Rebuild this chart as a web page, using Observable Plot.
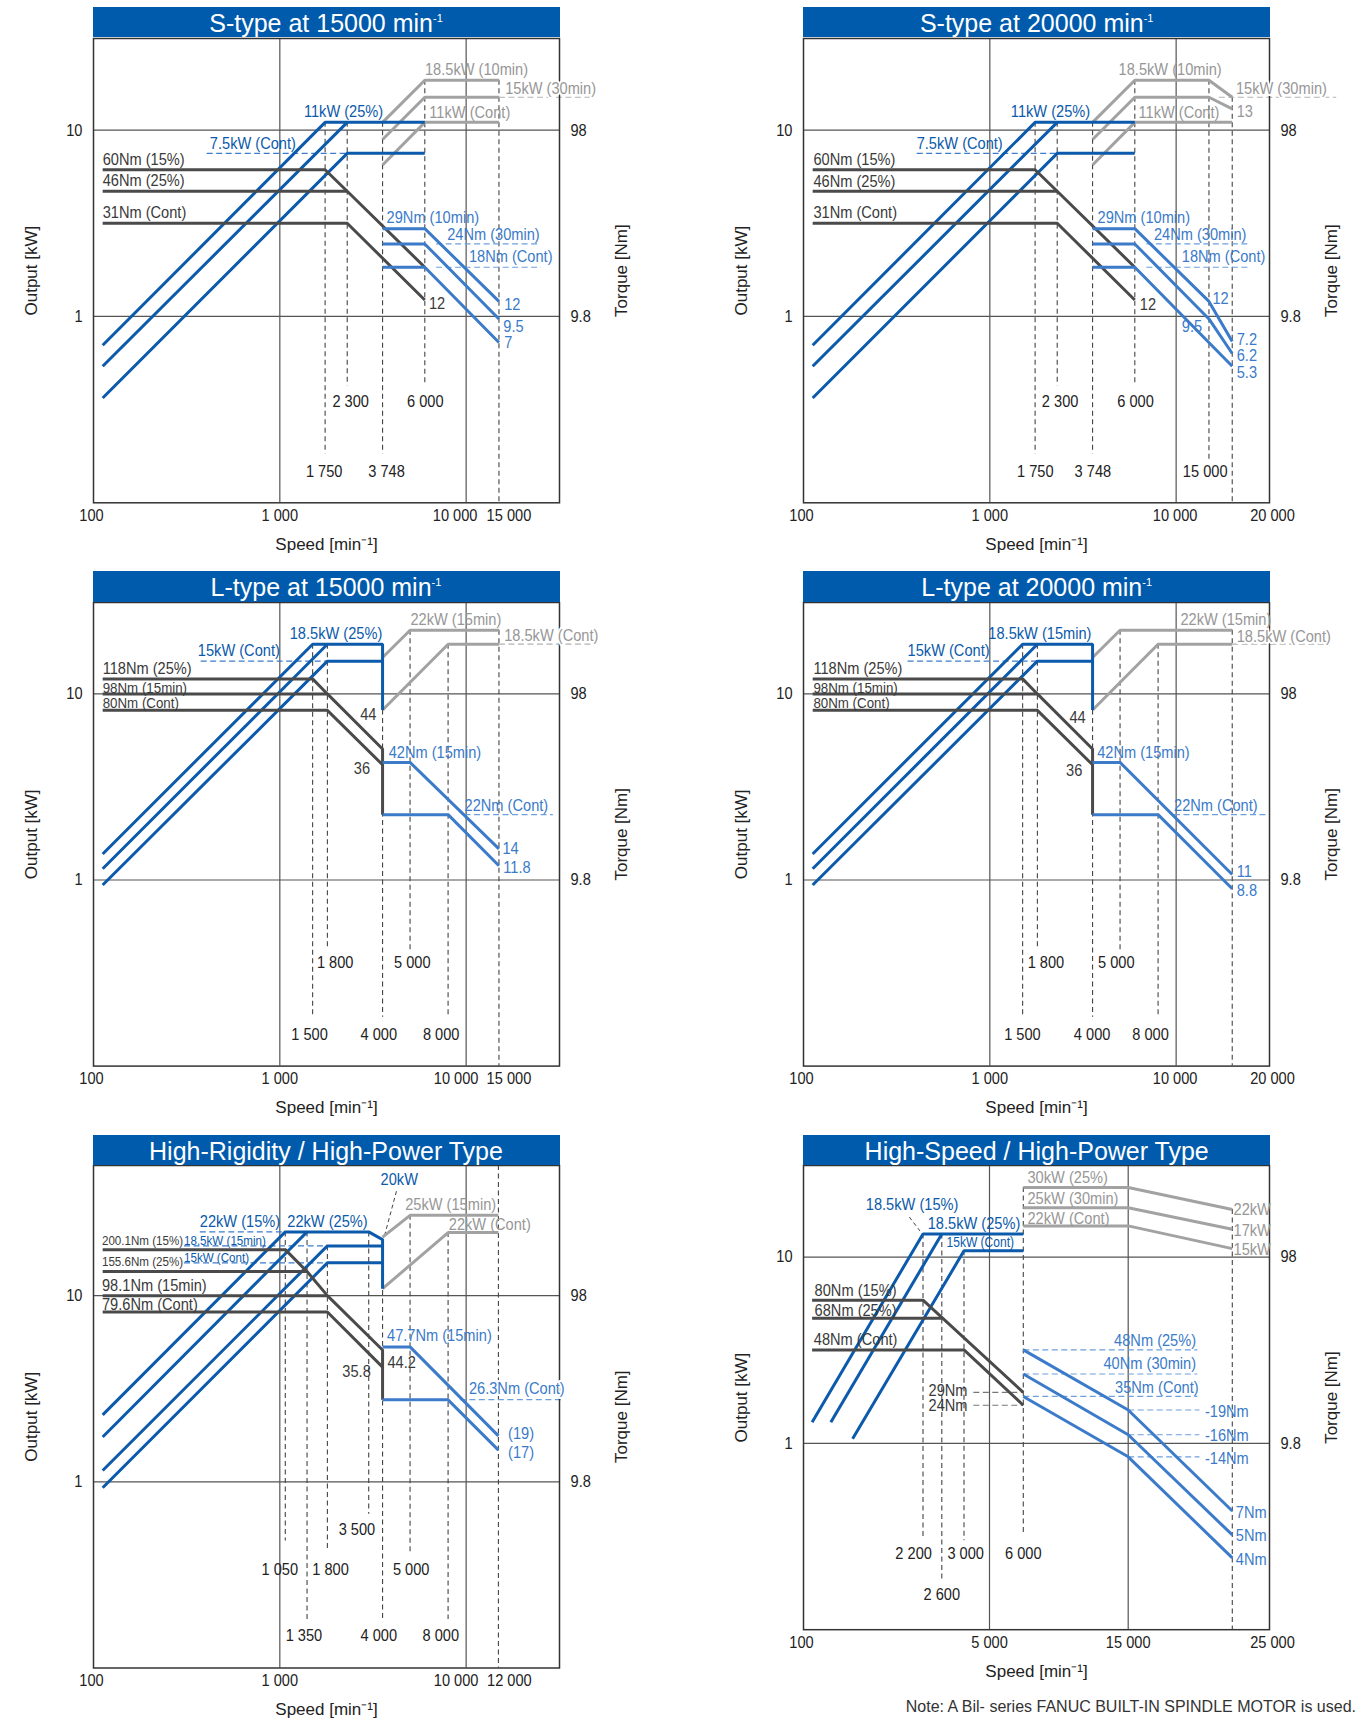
<!DOCTYPE html>
<html><head><meta charset="utf-8">
<script src="https://cdn.jsdelivr.net/npm/d3@7"></script>
<script src="https://cdn.jsdelivr.net/npm/@observablehq/plot@0.6"></script>
<style>
html,body{margin:0;padding:0;background:#fff;}
#root{position:relative;width:1369px;height:1720px;overflow:hidden;font-family:"Liberation Sans",Arial,sans-serif;}
.title{position:absolute;background:#005bac;color:#fff;font-size:25px;text-align:center;box-sizing:border-box;white-space:nowrap;line-height:32px;}
.title sup{font-size:11px;vertical-align:10px;line-height:0;}
.panel{position:absolute;}
.note{position:absolute;right:13px;top:1698px;font-size:16px;color:#333;white-space:nowrap;}
</style></head><body><div id="root"></div>
<script>
// ---------------- data ----------------
const titleText = ["S-type at 15000 min", "S-type at 20000 min", "L-type at 15000 min", "L-type at 20000 min", "High-Rigidity / High-Power Type", "High-Speed / High-Power Type"];
const titleSup = ["-1", "-1", "-1", "-1", "", ""];
const yTicks = [1, 10];
const yTickText = ["1", "10"];
const torqueTickText = ["9.8", "98"];
const X_EDGE = 31700; // speed at the right frame edge of the log panels

// series: [category, [[speed min-1, value]]]; output cats in kW, torque cats in Nm
const s15Series = [
  ["out", [[112, 0.70], [1750, 11], [6000, 11]]],
  ["out", [[112, 0.54], [2300, 11]]],
  ["out", [[112, 0.365], [2300, 7.5], [6000, 7.5]]],
  ["ext", [[3560, 11], [6000, 18.5], [15000, 18.5]]],
  ["ext", [[3560, 8.9], [6000, 15], [15000, 15]]],
  ["ext", [[3560, 6.5], [6000, 11], [15000, 11]]],
  ["trq", [[112, 60], [1750, 60], [2300, 46], [6000, 18]]],
  ["trq", [[112, 46], [2300, 46]]],
  ["trq", [[112, 31], [2300, 31], [6000, 12]]],
  ["trq2", [[3560, 29], [6000, 29], [15000, 11.8]]],
  ["trq2", [[3560, 24], [6000, 24], [15000, 9.5]]],
  ["trq2", [[3560, 18], [6000, 18], [15000, 7.1]]]
];
const s15Guides = [[1750, 11, 0.183], [2300, 11, 0.423], [3560, 11, 0.183], [6000, 18.5, 0.423], [15000, 18.5, 0.1]];
const s15Leaders = [["out", 405, 2300, 7.5], ["ext", 15000, 48700, 15], ["trq2", 6900, 24600, 24], ["trq2", 6900, 25200, 18]];
const s15Labels = [
  ["ext", "18.5kW (10min)", 6010, 21.0], ["ext", "15kW (30min)", 16200, 16.8], ["ext", "11kW (Cont)", 6345, 12.4],
  ["out", "11kW (25%)", 1347, 12.6], ["out", "7.5kW (Cont)", 421, 8.5],
  ["trq", "60Nm (15%)", 112, 68.3], ["trq", "46Nm (25%)", 112, 52.4], ["trq", "31Nm (Cont)", 112, 35.2],
  ["trq2", "29Nm (10min)", 3741, 33.4], ["trq2", "24Nm (30min)", 7910, 26.8], ["trq2", "18Nm (Cont)", 10350, 20.5],
  ["trq", "12", 6310, 11.5], ["trq2", "12", 16000, 11.4], ["trq2", "9.5", 15830, 8.7], ["trq2", "7", 16000, 7.1]
];
const s15Speeds = [["2 300", 2400, 0.35], ["6 000", 6040, 0.35], ["1 750", 1730, 0.148], ["3 748", 3741, 0.148]];
const s15Ticks = [100, 1000, 10000, 15000];
const s15TickText = ["100", "1 000", "10 000", "15 000"];

const s20Series = [
  ["out", [[112, 0.70], [1750, 11], [6000, 11]]],
  ["out", [[112, 0.54], [2300, 11]]],
  ["out", [[112, 0.365], [2300, 7.5], [6000, 7.5]]],
  ["ext", [[3560, 11], [6000, 18.5], [15000, 18.5], [20000, 15]]],
  ["ext", [[3560, 8.9], [6000, 15], [15000, 15], [20000, 13]]],
  ["ext", [[3560, 6.5], [6000, 11], [20000, 11]]],
  ["trq", [[112, 60], [1750, 60], [2300, 46], [6000, 18]]],
  ["trq", [[112, 46], [2300, 46]]],
  ["trq", [[112, 31], [2300, 31], [6000, 12]]],
  ["trq2", [[3560, 29], [6000, 29], [15000, 11.8], [20000, 7.2]]],
  ["trq2", [[3560, 24], [6000, 24], [15000, 9.5], [20000, 6.2]]],
  ["trq2", [[3560, 18], [6000, 18], [20000, 5.3]]]
];
const s20Guides = [[1750, 11, 0.183], [2300, 11, 0.423], [3560, 11, 0.183], [6000, 18.5, 0.423], [15000, 18.5, 0.167], [20000, 15, 0.1]];
const s20Leaders = [["out", 405, 2300, 7.5], ["ext", 16940, 72300, 15], ["trq2", 6920, 25200, 24], ["trq2", 6920, 25200, 18]];
const s20Labels = [
  ["ext", "18.5kW (10min)", 4910, 21.0], ["ext", "15kW (30min)", 20940, 16.8], ["ext", "11kW (Cont)", 6280, 12.4], ["ext", "13", 21140, 12.5],
  ["out", "11kW (25%)", 1297, 12.5], ["out", "7.5kW (Cont)", 405, 8.5],
  ["trq", "60Nm (15%)", 113, 68.3], ["trq", "46Nm (25%)", 113, 51.9], ["trq", "31Nm (Cont)", 113, 35.2],
  ["trq2", "29Nm (10min)", 3785, 33.4], ["trq2", "24Nm (30min)", 7600, 27.0], ["trq2", "18Nm (Cont)", 10720, 20.5],
  ["trq", "12", 6380, 11.4], ["trq2", "12", 15670, 12.2], ["trq2", "9.5", 10720, 8.7],
  ["trq2", "7.2", 21140, 7.36], ["trq2", "6.2", 21140, 6.03], ["trq2", "5.3", 21140, 4.9]
];
const s20Speeds = [["2 300", 2384, 0.35], ["6 000", 6050, 0.35], ["1 750", 1754, 0.148], ["3 748", 3573, 0.148], ["15 000", 14320, 0.148]];
const s20Ticks = [100, 1000, 10000, X_EDGE];
const s20TickText = ["100", "1 000", "10 000", "20 000"];

const l15Series = [
  ["out", [[112, 1.38], [1500, 18.5], [3560, 18.5], [3560, 8.2]]],
  ["out", [[112, 1.15], [1800, 18.5]]],
  ["out", [[112, 0.94], [1800, 15], [3560, 15]]],
  ["ext", [[3560, 15.7], [5000, 22], [15000, 22]]],
  ["ext", [[3560, 8.2], [8000, 18.5], [15000, 18.5]]],
  ["trq", [[112, 118], [1500, 118], [1800, 98], [3560, 49.6], [3560, 22]]],
  ["trq", [[112, 98], [1800, 98]]],
  ["trq", [[112, 80], [1800, 80], [3560, 40.8]]],
  ["trq2", [[3560, 42], [5000, 42], [15000, 14.4]]],
  ["trq2", [[3560, 22], [8000, 22], [15000, 11.7]]]
];
const l15Guides = [[1500, 18.5, 0.183], [1800, 18.5, 0.43], [3560, 8.2, 0.183], [5000, 22, 0.42], [8000, 18.5, 0.183], [15000, 22, 0.1]];
const l15Leaders = [["ext", 15000, 49900, 18.5], ["out", 376, 1800, 15], ["trq2", 9806, 29200, 22]];
const l15Labels = [
  ["ext", "22kW (15min)", 5020, 25.0], ["ext", "18.5kW (Cont)", 16000, 20.7],
  ["out", "18.5kW (25%)", 1130, 21.0], ["out", "15kW (Cont)", 363, 17.0],
  ["trq", "118Nm (25%)", 112, 133.5], ["trq", "98Nm (15min)", 112, 106], ["trq", "80Nm (Cont)", 112, 87.4],
  ["trq", "44", 2698, 75.5], ["trq", "36", 2494, 38.8],
  ["trq2", "42Nm (15min)", 3837, 47.3], ["trq2", "22Nm (Cont)", 9806, 24.6], ["trq2", "14", 15670, 14.4], ["trq2", "11.8", 15830, 11.4]
];
const l15Speeds = [["1 800", 1983, 0.359], ["5 000", 5140, 0.359], ["1 500", 1443, 0.148], ["4 000", 3398, 0.148], ["8 000", 7346, 0.148]];

const l20Series = [
  ["out", [[112, 1.38], [1500, 18.5], [3560, 18.5], [3560, 8.2]]],
  ["out", [[112, 1.15], [1800, 18.5]]],
  ["out", [[112, 0.94], [1800, 15], [3560, 15]]],
  ["ext", [[3560, 15.7], [5000, 22], [20000, 22]]],
  ["ext", [[3560, 8.2], [8000, 18.5], [20000, 18.5]]],
  ["trq", [[112, 118], [1500, 118], [1800, 98], [3560, 49.6], [3560, 22]]],
  ["trq", [[112, 98], [1800, 98]]],
  ["trq", [[112, 80], [1800, 80], [3560, 40.8]]],
  ["trq2", [[3560, 42], [5000, 42], [20000, 10.5]]],
  ["trq2", [[3560, 22], [8000, 22], [20000, 8.8]]]
];
const l20Guides = [[1500, 18.5, 0.183], [1800, 18.5, 0.43], [3560, 8.2, 0.183], [5000, 22, 0.42], [8000, 18.5, 0.183], [20000, 22, 0.1]];
const l20Leaders = [["ext", 20000, 66800, 18.5], ["out", 362, 1800, 15], ["trq2", 9740, 30300, 22]];
const l20Labels = [
  ["ext", "22kW (15min)", 10540, 25.2], ["ext", "18.5kW (Cont)", 21140, 20.4],
  ["out", "18.5kW (15min)", 982, 21.0], ["out", "15kW (Cont)", 362, 17.0],
  ["trq", "118Nm (25%)", 113, 133.5], ["trq", "98Nm (15min)", 113, 106], ["trq", "80Nm (Cont)", 113, 87.4],
  ["trq", "44", 2673, 72.9], ["trq", "36", 2566, 37.9],
  ["trq2", "42Nm (15min)", 3767, 47.3], ["trq2", "22Nm (Cont)", 9740, 24.6], ["trq2", "11", 21140, 10.85], ["trq2", "8.8", 21140, 8.59]
];
const l20Speeds = [["1 800", 2000, 0.359], ["5 000", 4775, 0.359], ["1 500", 1496, 0.148], ["4 000", 3540, 0.148], ["8 000", 7290, 0.148]];

const hrSeries = [
  ["out", [[112, 2.29], [1070, 22], [3000, 22], [3560, 20], [3560, 10.9]]],
  ["out", [[112, 1.74], [1400, 22]]],
  ["out", [[112, 1.15], [1800, 18.5], [3560, 18.5]]],
  ["out", [[112, 0.93], [1800, 15], [3560, 15]]],
  ["ext", [[3560, 20.6], [5000, 27], [14900, 27]]],
  ["ext", [[3560, 10.9], [8000, 21.8], [14900, 21.8]]],
  ["trq", [[112, 173], [1070, 173], [1400, 132], [1800, 98], [3560, 50], [3560, 27]]],
  ["trq", [[112, 132], [1400, 132]]],
  ["trq", [[112, 98], [1800, 98]]],
  ["trq", [[112, 80], [1800, 80], [3560, 40.5]]],
  ["trq2", [[3560, 52], [5000, 52], [14900, 17.3]]],
  ["trq2", [[3560, 27], [8000, 27], [14900, 14.5]]]
];
const hrGuides = [[1070, 22, 0.481], [1400, 22, 0.182], [1800, 18.5, 0.4375], [3000, 22, 0.669], [3560, 20, 0.182], [5000, 27, 0.417], [8000, 21.8, 0.182], [14900, 50, 0.1]];
const hrLeaders = [["out", 372, 1070, 22], ["out", 306, 1800, 18.5], ["out", 306, 1800, 15], ["trq2", 9250, 32960, 27.1]];
const hrPointers = [[4227, 36.4, 3652, 21.1]];
const hrLabels = [
  ["out", "20kW", 3475, 41.9], ["ext", "25kW (15min)", 4710, 30.8], ["ext", "22kW (Cont)", 8070, 24.1],
  ["out", "22kW (15%)", 372, 24.9], ["out", "22kW (25%)", 1097, 24.9],
  ["trq", "200.1Nm (15%)", 111, 194.5], ["out", "18.5kW (15min)", 306, 19.85],
  ["trq", "155.6Nm (25%)", 111, 150], ["out", "15kW (Cont)", 306, 16.0],
  ["trq", "98.1Nm (15min)", 111, 110.8], ["trq", "79.6Nm (Cont)", 111, 87.5],
  ["trq2", "47.7Nm (15min)", 3762, 59.9], ["trq", "44.2", 3780, 43.0], ["trq", "35.8", 2165, 38.1],
  ["trq2", "26.3Nm (Cont)", 10350, 31.2], ["trq2", "(19)", 16790, 17.9], ["trq2", "(17)", 16790, 14.1]
];
const hrSpeeds = [["3 500", 2594, 0.554], ["1 050", 1000, 0.337], ["1 800", 1871, 0.337], ["5 000", 5070, 0.337], ["1 350", 1347, 0.1488], ["4 000", 3398, 0.1488], ["8 000", 7310, 0.1488]];
const hrTicks = [100, 1000, 10000, 14900];
const hrTickText = ["100", "1 000", "10 000", "12 000"];

const hsBreaks = [100, 2200, 2600, 3000, 5000, 6000, 15000, 22000, 25000];
const hsSeries = [
  ["out", [[251, 1.30], [2200, 13.3], [6000, 13.3]]],
  ["out", [[580, 1.30], [2600, 13.3]]],
  ["out", [[963, 1.06], [3000, 10.8], [6000, 10.8]]],
  ["ext", [[6000, 23.6], [15000, 23.6], [22000, 18.0]]],
  ["ext", [[6000, 18.4], [15000, 18.4], [22000, 14.1]]],
  ["ext", [[6000, 14.7], [15000, 14.7], [22000, 11.1]]],
  ["trq", [[251, 57.5], [2200, 57.5], [6000, 18.4]]],
  ["trq", [[251, 46.0], [2600, 46.0]]],
  ["trq", [[251, 31.1], [3000, 31.1], [6000, 15.7]]],
  ["trq2", [[6000, 31.1], [15000, 14.8], [22000, 4.25]]],
  ["trq2", [[6000, 23.1], [15000, 10.9], [22000, 3.16]]],
  ["trq2", [[6000, 17.5], [15000, 8.3], [22000, 2.38]]]
];
const hsGuides = [[2200, 13.3, 0.308], [2600, 13.3, 0.183], [3000, 10.8, 0.30], [6000, 23.6, 0.33], [22000, 18.0, 0.1]];
const hsLeaders = [["trq2", 6000, 19650, 31.1], ["trq2", 6000, 19650, 23.1], ["trq2", 6000, 19650, 17.5],
  ["trq2", 15000, 19790, 14.8], ["trq2", 15000, 19790, 10.9], ["trq2", 15000, 19790, 8.3],
  ["trq", 3730, 6000, 18.4], ["trq", 3730, 6000, 15.7]];
const hsPointers = [[1960, 16.4, 2147, 13.8]];
const hsLabels = [
  ["out", "18.5kW (15%)", 1195, 19.1], ["out", "18.5kW (25%)", 2300, 15.2], ["out", "15kW (Cont)", 2685, 11.9],
  ["ext", "30kW (25%)", 6360, 26.8], ["ext", "25kW (30min)", 6360, 20.5], ["ext", "22kW (Cont)", 6360, 16.1],
  ["ext", "22kW", 22100, 18.0], ["ext", "17kW", 22100, 13.9], ["ext", "15kW", 22100, 10.94],
  ["trq", "80Nm (15%)", 295, 64.7], ["trq", "68Nm (25%)", 295, 50.9], ["trq", "48Nm (Cont)", 281, 35.2],
  ["trq", "29Nm", 2317, 18.9], ["trq", "24Nm", 2317, 15.7],
  ["trq2", "48Nm (25%)", 13790, 34.9], ["trq2", "40Nm (30min)", 12880, 26.3], ["trq2", "35Nm (Cont)", 13870, 19.6],
  ["trq2", "-19Nm", 20160, 14.6], ["trq2", "-16Nm", 20160, 10.8], ["trq2", "-14Nm", 20160, 8.1],
  ["trq2", "7Nm", 22280, 4.19], ["trq2", "5Nm", 22280, 3.13], ["trq2", "4Nm", 22280, 2.32]
];
const hsSpeeds = [["2 200", 2035, 0.2547], ["3 000", 3133, 0.2547], ["6 000", 6000, 0.2547], ["2 600", 2600, 0.155]];
const hsTicks = [100, 5000, 15000, 25000];
const hsTickText = ["100", "5 000", "15 000", "25 000"];

const noteText = "Note: A Bil- series FANUC BUILT-IN SPINDLE MOTOR is used.";

// ---------------- styling / layout ----------------
const NARROW = "Liberation Sans, Arial, sans-serif";      // drawn condensed (see narrowText)
const REG = '"Liberation Sans", Arial, sans-serif';
const SQUEEZE = 0.86;
const LINE = {out: "#0b5aab", ext: "#a2a2a2", trq: "#4a4a4a", trq2: "#3b7bc9"};
const TEXT = {out: "#0b5aab", ext: "#979797", trq: "#3a3a3a", trq2: "#3b7bc9"};
const LEAD = {out: "#3d7ccc", ext: "#b2b2b2", trq: "#777777", trq2: "#6d9fdc"};
const CATS = ["ext", "out", "trq", "trq2"];
const ML = 80, MR = 90, MT = 14, MB = 62, W = 466;
const yPos = (cat, v) => (cat === "trq" || cat === "trq2") ? v / 9.8 : v;

const panels = [
  {fl: 92.5, ft: 37.5, h: 464.3, tt: 7.1, yMax: 31, series: s15Series, guides: s15Guides, leaders: s15Leaders, labels: s15Labels, speeds: s15Speeds, ticks: s15Ticks, tickText: s15TickText, tickDx: [-2, 0, -11, 10], gridX: [1000, 10000], boxed: ["15kW (30min)"]},
  {fl: 803.2, ft: 37.5, h: 464.3, tt: 7.1, yMax: 31, series: s20Series, guides: s20Guides, leaders: s20Leaders, labels: s20Labels, speeds: s20Speeds, ticks: s20Ticks, tickText: s20TickText, tickDx: [-2, 0, -1, 3], gridX: [1000, 10000], boxed: ["15kW (30min)"]},
  {fl: 92.5, ft: 601.8, h: 463.6, tt: 571.4, yMax: 31, series: l15Series, guides: l15Guides, leaders: l15Leaders, labels: l15Labels, speeds: l15Speeds, ticks: s15Ticks, tickText: s15TickText, tickDx: [-2, 0, -10, 10], gridX: [1000, 10000], small: ["98Nm (15min)", "80Nm (Cont)"], smallSize: 15.5, boxed: ["18.5kW (Cont)"]},
  {fl: 803.2, ft: 601.8, h: 463.6, tt: 571.4, yMax: 31, series: l20Series, guides: l20Guides, leaders: l20Leaders, labels: l20Labels, speeds: l20Speeds, ticks: s20Ticks, tickText: s20TickText, tickDx: [-2, 0, -1, 3], gridX: [1000, 10000], small: ["98Nm (15min)", "80Nm (Cont)"], smallSize: 15.5, boxed: ["18.5kW (Cont)"]},
  {fl: 92.5, ft: 1164.8, h: 502.5, tt: 1134.5, yMax: 50, series: hrSeries, guides: hrGuides, leaders: hrLeaders, labels: hrLabels, speeds: hrSpeeds, ticks: hrTicks, tickText: hrTickText, tickDx: [-2, 0, -10, 11], gridX: [1000, 10000], pointers: hrPointers, small: ["200.1Nm (15%)", "18.5kW (15min)", "155.6Nm (25%)", "15kW (Cont)"], smallSize: 13.5, boxed: ["26.3Nm (Cont)"]},
  {fl: 803.2, ft: 1164.8, h: 464.2, tt: 1134.5, yMax: 31, series: hsSeries, guides: hsGuides, leaders: hsLeaders, labels: hsLabels, speeds: hsSpeeds, ticks: hsTicks, tickText: hsTickText, tickDx: [-2, 0, 0, 3], gridX: [5000, 15000], pointers: hsPointers, small: ["15kW (Cont)"], smallSize: 14,
   breaks: hsBreaks, breakPx: [0, 119.5, 138.3, 160.5, 186, 219.8, 324.7, 428.8, 466]}
];

function narrowText(svg) {
  svg.querySelectorAll("g").forEach(g => {
    if (g.getAttribute("font-family") !== NARROW) return;
    g.querySelectorAll("text").forEach(t => {
      const x = +t.getAttribute("x") || 0, y = +t.getAttribute("y") || 0;
      const tr = t.getAttribute("transform") || "";
      t.setAttribute("transform", `${tr} translate(${x},${y}) scale(${SQUEEZE},1) translate(${-x},${-y})`);
    });
  });
}

function drawPanel(p) {
  const rows = p.series.flatMap(([cat, pts], i) => pts.map(([x, v]) => ({id: i, cat, x, y: yPos(cat, v)})));
  const small = p.small || [];
  const boxed = p.boxed || [];
  const marks = [
    Plot.ruleX(p.gridX, {stroke: "#555", strokeWidth: 1.2}),
    Plot.ruleY(yTicks, {stroke: "#555", strokeWidth: 1.2}),
    Plot.ruleX(p.guides, {x: d => d[0], y1: d => d[1], y2: d => d[2], stroke: "#444", strokeWidth: 1.1, strokeDasharray: "5,3.5"})
  ];
  for (const cat of CATS) {
    const ld = p.leaders.filter(d => d[0] === cat);
    if (ld.length) marks.push(Plot.link(ld, {x1: d => d[1], x2: d => d[2], y1: d => yPos(cat, d[3]), y2: d => yPos(cat, d[3]), stroke: LEAD[cat], strokeWidth: 1.2, strokeDasharray: "6,3.5"}));
  }
  if (p.pointers) marks.push(Plot.link(p.pointers, {x1: d => d[0], y1: d => d[1], x2: d => d[2], y2: d => d[3], stroke: "#444", strokeWidth: 1, strokeDasharray: "4,3"}));
  for (const cat of CATS) {
    marks.push(Plot.line(rows.filter(r => r.cat === cat), {x: "x", y: "y", z: "id", stroke: LINE[cat], strokeWidth: 3, strokeLinejoin: "miter", strokeLinecap: "butt"}));
  }
  marks.push(Plot.frame({stroke: "#333", strokeWidth: 1.5}));
  for (const cat of CATS) {
    for (const sm of [false, true]) {
      for (const bx of [false, true]) {
        const data = p.labels.filter(d => d[0] === cat && small.includes(d[1]) === sm && boxed.includes(d[1]) === bx);
        if (!data.length) continue;
        const opts = {x: d => d[2], y: d => yPos(cat, d[3]), text: d => d[1], textAnchor: "start", fill: TEXT[cat], fontSize: sm ? p.smallSize : 17, fontFamily: NARROW};
        if (bx) Object.assign(opts, {stroke: "white", strokeWidth: 4});
        marks.push(Plot.text(data, opts));
      }
    }
  }
  marks.push(Plot.text(p.speeds, {x: d => d[1], y: d => d[2], text: d => d[0], textAnchor: "middle", fill: "#222", fontSize: 17, fontFamily: NARROW}));
  p.ticks.forEach((t, i) => marks.push(Plot.text([p.tickText[i]], {x: () => t, text: d => d, frameAnchor: "bottom", textAnchor: "middle", lineAnchor: "middle", dy: 12.5, dx: p.tickDx[i], fill: "#222", fontSize: 17, fontFamily: NARROW})));
  marks.push(Plot.text(yTickText, {y: (d, i) => yTicks[i], text: d => d, frameAnchor: "left", dx: -11, textAnchor: "end", lineAnchor: "middle", fill: "#222", fontSize: 17, fontFamily: NARROW}));
  marks.push(Plot.text(torqueTickText, {y: (d, i) => yTicks[i], text: d => d, frameAnchor: "right", dx: 11, textAnchor: "start", lineAnchor: "middle", fill: "#222", fontSize: 17, fontFamily: NARROW}));
  marks.push(Plot.text(["Output [kW]"], {text: d => d, frameAnchor: "left", textAnchor: "middle", lineAnchor: "middle", dx: -62, rotate: -90, fill: "#222", fontSize: 17, fontFamily: REG}));
  marks.push(Plot.text(["Torque [Nm]"], {text: d => d, frameAnchor: "right", textAnchor: "middle", lineAnchor: "middle", dx: 62, rotate: -90, fill: "#222", fontSize: 17, fontFamily: REG}));
  marks.push(Plot.text(["Speed [min\u207B\u00B9]"], {text: d => d, frameAnchor: "bottom", textAnchor: "middle", lineAnchor: "middle", dy: 41.5, fill: "#222", fontSize: 17, fontFamily: REG}));

  const xScale = p.breaks
    ? {type: "linear", domain: p.breaks, range: p.breakPx.map(d => ML + d), axis: null}
    : {type: "log", domain: [100, X_EDGE], axis: null};
  const svg = Plot.plot({
    width: ML + W + MR, height: MT + p.h + MB,
    marginLeft: ML, marginRight: MR, marginTop: MT, marginBottom: MB,
    x: xScale,
    y: {type: "log", domain: [0.1, p.yMax], axis: null},
    style: {fontFamily: REG, fontSize: "17px", color: "#222", background: "transparent", overflow: "visible"},
    marks
  });
  narrowText(svg);
  return svg;
}

const root = document.getElementById("root");
panels.forEach((p, i) => {
  const t = document.createElement("div");
  t.className = "title";
  t.style.left = p.fl + "px";
  t.style.top = p.tt + "px";
  t.style.width = (W + 1) + "px";
  t.style.height = (p.ft - p.tt) + "px";
  t.innerHTML = titleText[i] + (titleSup[i] ? "<sup>" + titleSup[i] + "</sup>" : "");
  const wrap = document.createElement("div");
  wrap.className = "panel";
  wrap.style.left = (p.fl - ML) + "px";
  wrap.style.top = (p.ft - MT) + "px";
  wrap.appendChild(drawPanel(p));
  root.appendChild(wrap);
  root.appendChild(t);
});
const note = document.createElement("div");
note.className = "note";
note.textContent = noteText;
root.appendChild(note);
</script></body></html>
